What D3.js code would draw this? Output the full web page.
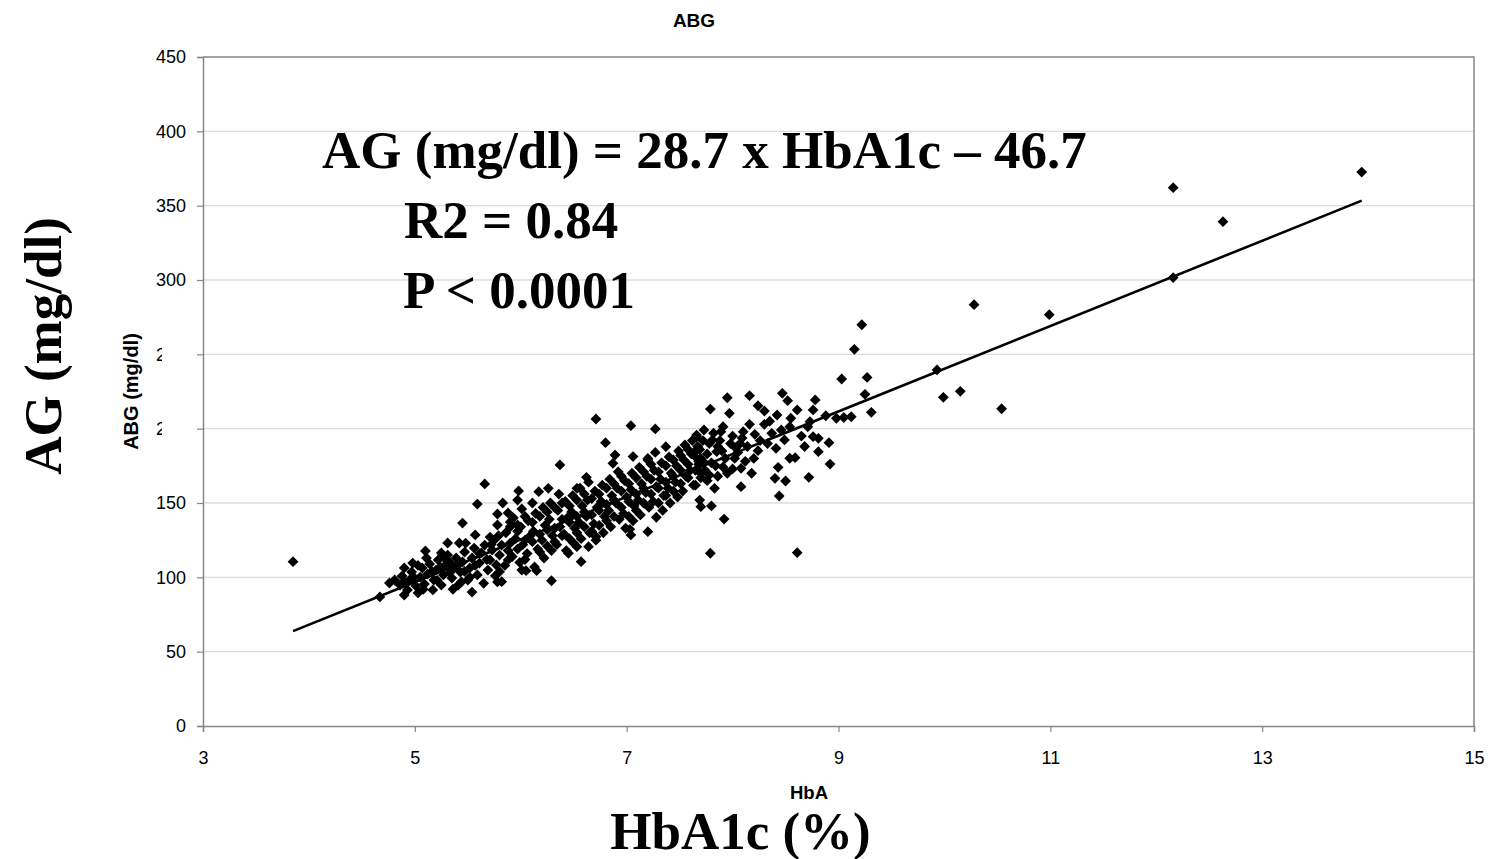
<!DOCTYPE html>
<html>
<head>
<meta charset="utf-8">
<script src="https://cdn.jsdelivr.net/npm/d3@7"></script>
<style>
  body { margin: 0; background: #fff; }
  .tick text { font-family: "Liberation Sans", Arial, sans-serif; font-size: 18px; fill: #000; }
</style>
</head>
<body>
<div id="chart"></div>
<script>
  'use strict';

  // HbA1c (%) / average blood glucose (mg/dl)
  // lower tail, HbA1c < 6
  var lowX = [3.85, 4.67, 4.76, 4.81, 4.90, 4.90, 4.98, 5.03, 5.10, 5.17,
    5.25, 5.31, 5.42, 5.45, 5.54, 5.57, 5.59, 5.66, 5.71, 5.78,
    5.78, 5.78, 5.83, 5.88, 5.90, 5.98, 5.97, 5.88, 6.01,
    4.86, 4.88, 4.93, 4.95, 4.97, 5.01, 5.05, 5.07, 5.09, 5.12,
    5.14, 5.18, 5.20, 5.22, 5.25, 5.27, 5.29, 5.31, 5.35, 5.37,
    5.39, 5.41, 5.43, 5.45, 5.47, 5.50, 5.52, 5.54, 5.56, 5.59,
    5.61, 5.63, 5.66, 5.69, 5.71, 5.73, 5.75, 5.77, 5.80, 5.82,
    4.90, 4.99, 5.03, 5.08, 5.11, 5.16, 5.21, 5.24, 5.28, 5.33,
    5.36, 5.40, 5.44, 5.47, 5.52, 5.57, 5.61, 5.65, 5.68, 5.72,
    5.76, 5.79, 5.33, 5.48];
  var lowY = [110.5, 86.8, 96.2, 98.2, 88.1, 106.3, 109.6, 89.5, 117.7, 91.5,
    116.4, 123.1, 123.1, 136.5, 90.1, 128.5, 149.3, 162.8, 127.1, 142.6,
    135.2, 96.9, 150.0, 143.3, 137.2, 158.1, 135.2, 111.7, 104.9,
    94.8, 100.9, 91.5, 98.2, 103.6, 94.2, 100.2, 106.3, 95.5, 102.2,
    109.0, 98.2, 104.9, 111.7, 94.8, 101.6, 108.3, 115.0, 99.5, 106.3,
    113.0, 94.8, 103.6, 110.3, 117.0, 98.2, 106.3, 113.0, 119.7, 101.6,
    109.6, 116.4, 121.7, 104.9, 111.7, 118.4, 125.1, 108.3, 115.0, 121.7,
    97, 100, 108, 92, 113, 104, 98, 107, 113, 103,
    92, 108, 97, 104, 100, 108, 116, 96, 112, 122,
    101, 128, 110, 123];

  // main band, HbA1c 5.8 - 7.7
  var midX = [5.86, 5.88, 5.85, 5.93, 5.95, 5.92, 6.00, 6.02, 5.99, 6.01,
    6.07, 6.09, 6.06, 6.14, 6.12, 6.16, 6.13, 6.21, 6.23, 6.20,
    6.22, 6.28, 6.27, 6.30, 6.29, 6.35, 6.37, 6.34, 6.36, 6.42,
    6.44, 6.41, 6.43, 6.49, 6.48, 6.51, 6.50, 6.56, 6.58, 6.55,
    6.57, 6.63, 6.62, 6.65, 6.64, 6.70, 6.72, 6.69, 6.71, 6.77,
    6.76, 6.79, 6.78, 6.84, 6.86, 6.83, 6.85, 6.91, 6.90, 6.93,
    6.92, 6.98, 7.00, 6.97, 6.99, 7.05, 7.04, 7.07, 7.06, 7.12,
    7.14, 7.11, 7.13, 7.19, 7.18, 7.21, 7.20, 7.26, 7.28, 7.25,
    7.27, 7.33, 7.32, 7.35, 7.34, 7.40, 7.42, 7.39, 7.41, 7.47,
    7.46, 7.49, 7.48, 7.54, 7.56, 7.53, 7.55, 7.61, 7.60, 7.63,
    7.62, 7.68, 7.70, 7.67,
    6.71, 7.04, 7.27, 7.66, 6.80, 7.37, 6.89, 6.37, 6.87, 7.06,
    7.20, 6.62, 6.17, 6.26, 6.53, 7.28, 7.20, 7.03, 7.04, 6.71,
    6.64, 6.53, 6.45, 6.57, 6.05, 6.15, 6.29, 5.82, 5.80];
  var midY = [130, 118, 108, 140, 126, 114, 134, 122, 110, 146,
    138, 128, 116, 143, 131, 119, 107, 147, 135, 125,
    113, 150, 139, 128, 118, 145, 134, 122, 156, 151,
    140, 129, 118, 155, 144, 133, 123, 160, 148, 137,
    126, 152, 141, 130, 164, 158, 147, 136, 125, 162,
    151, 141, 130, 166, 155, 145, 134, 160, 150, 139,
    171, 165, 154, 143, 133, 170, 159, 148, 138, 174,
    163, 152, 142, 168, 157, 147, 180, 172, 161, 151,
    184, 177, 166, 155, 145, 181, 170, 160, 150, 175,
    164, 185, 154, 179, 168, 158, 189, 183, 172, 162,
    192, 178, 167, 188,
    206.5, 202.0, 199.8, 195.7, 190.6, 187.9, 182.3, 175.6, 176.7, 181.2,
    178.9, 167.3, 157.6, 159.9, 159.9, 140.4, 130.7, 132.3, 128.5, 127.3,
    120.6, 120.6, 116.2, 110.5, 104.5, 104.5, 97.7, 97.1, 103.8];

  // points between the columns above, same band
  var fillX = [5.90, 5.90, 5.97, 5.97, 5.97, 6.04, 6.04, 6.04, 6.11, 6.11,
    6.11, 6.18, 6.18, 6.18, 6.25, 6.25, 6.25, 6.32, 6.32, 6.32,
    6.39, 6.39, 6.39, 6.46, 6.46, 6.46, 6.53, 6.53, 6.53, 6.60,
    6.60, 6.60, 6.67, 6.67, 6.67, 6.74, 6.74, 6.74, 6.81, 6.81,
    6.81, 6.88, 6.88, 6.88, 6.95, 6.95, 6.95, 7.02, 7.02, 7.02,
    7.09, 7.09, 7.09, 7.16, 7.16, 7.16, 7.23, 7.23, 7.23, 7.30,
    7.30, 7.30, 7.37, 7.37, 7.37, 7.44, 7.44, 7.44, 7.51, 7.51,
    7.51, 7.58, 7.58, 7.58, 7.65, 7.65, 7.65];
  var fillY = [123, 134, 119, 131, 152, 125, 141, 112, 124, 137,
    150, 129, 141, 117, 132, 144, 121, 133, 124, 147,
    139, 128, 150, 137, 148, 126, 141, 152, 130, 144,
    134, 156, 142, 153, 131, 145, 156, 135, 149, 160,
    138, 152, 163, 141, 147, 158, 168, 151, 163, 141,
    156, 167, 145, 160, 171, 150, 156, 166, 176, 160,
    171, 150, 164, 175, 155, 168, 179, 158, 172, 163,
    182, 176, 167, 186, 172, 181, 162];

  // upper band, HbA1c 7.6 - 9.3
  var highX = [9.03, 9.27, 9.25, 9.31, 7.95, 8.16, 8.47, 8.52, 8.78, 7.79,
    7.97, 8.24, 8.30, 8.42, 8.61, 8.76, 8.88, 8.98, 9.05, 9.12,
    8.73, 8.16, 8.30, 7.91, 7.73, 7.66, 7.89, 8.21, 8.37, 8.46,
    8.54, 8.71, 7.81, 8.09, 8.49, 8.76, 8.81, 8.91, 8.41, 8.24,
    8.03, 7.85, 8.81, 7.69, 7.70, 7.68, 8.54, 8.59, 8.92, 8.43,
    8.00, 8.08, 7.91, 8.18, 8.40, 8.50, 8.72, 8.08, 7.78, 7.83,
    8.44, 7.69, 7.70, 7.80, 7.92, 7.79, 8.61,
    7.65, 7.72, 7.78, 7.84, 7.90, 7.95, 8.02, 8.07, 8.12, 7.70,
    7.76, 7.88, 8.00, 7.82,
    7.74, 7.76, 7.80, 7.86, 7.93, 7.98, 8.05, 8.10, 7.72, 7.86,
    8.14, 8.20, 8.26, 8.33, 8.35, 8.55, 8.65, 8.68];
  var highY = [233.4, 234.5, 223.1, 211.0, 220.8, 222.2, 223.8, 218.8, 219.3, 213.2,
    210.3, 215.4, 211.9, 209.2, 212.6, 212.6, 208.7, 207.0, 207.5, 208.0,
    204.7, 202.9, 202.9, 201.3, 199.1, 194.6, 198.0, 196.2, 196.9, 199.1,
    201.3, 201.3, 192.4, 193.7, 192.4, 194.6, 193.5, 190.6, 186.8, 185.2,
    187.0, 184.5, 184.5, 186.0, 180.0, 176.0, 180.1, 180.5, 176.2, 174.0,
    172.9, 173.3, 174.2, 170.0, 166.6, 164.8, 167.3, 161.0, 168.8, 159.9,
    154.7, 152.0, 147.5, 148.0, 139.2, 116.2, 116.6,
    185, 178, 190, 175, 185, 170, 180, 190, 178, 170,
    165, 192, 195, 197,
    172, 183, 177, 188, 180, 190, 184, 198, 192, 168,
    188, 180, 192, 190, 205, 207, 195, 188];

  // sparse points above HbA1c 9
  var outX = [13.94, 12.16, 12.63, 12.16, 10.99, 10.28, 9.22, 9.15, 9.93, 9.99, 10.15, 10.54];
  var outY = [372.6, 362.1, 339.2, 301.6, 276.7, 283.4, 269.9, 253.4, 239.5, 221.1, 225.1, 213.4];

  var xTicks = [3, 5, 7, 9, 11, 13, 15];
  var yTicks = [0, 50, 100, 150, 200, 250, 300, 350, 400, 450];

  // trendline shown on the chart
  var fitSlope = 28.7;
  var fitIntercept = -46.7;
  var fitText = ["AG (mg/dl) = 28.7 x HbA1c \u2013 46.7", "R2 = 0.84", "P < 0.0001"];

  var points = [];
  [[lowX, lowY], [midX, midY], [fillX, fillY], [highX, highY], [outX, outY]].forEach(function (g) {
    for (var i = 0; i < Math.min(g[0].length, g[1].length); i++) {
      points.push({ x: g[0][i], y: g[1][i] });
    }
  });

  var w = 1490;
  var h = 859;
  var plotLeft = 203, plotRight = 1474, plotTop = 57, plotBottom = 726;
  var markerR = 5.4;
  var serif = '"Liberation Serif", "Times New Roman", serif';
  var sans = '"Liberation Sans", Arial, sans-serif';
  var axisGrey = "#868686";

  var svg = d3.select("#chart").append("svg")
    .attr("width", w)
    .attr("height", h);

  var x = d3.scaleLinear().domain([3, 15]).range([plotLeft, plotRight]);
  var y = d3.scaleLinear().domain([0, 450]).range([plotBottom, plotTop]);

  // gridlines
  svg.append("g").selectAll("line.grid")
    .data(yTicks.filter(function (d) { return d > 0 && d < 450; }))
    .enter().append("line")
    .attr("class", "grid")
    .attr("x1", plotLeft).attr("x2", plotRight)
    .attr("y1", function (d) { return y(d); })
    .attr("y2", function (d) { return y(d); })
    .attr("stroke", "#dcdcdc")
    .attr("stroke-width", 1.3);

  // plot border top / right
  svg.append("path")
    .attr("d", "M" + plotLeft + "," + plotTop + "H" + plotRight + "V" + plotBottom)
    .attr("fill", "none")
    .attr("stroke", axisGrey)
    .attr("stroke-width", 1.5);

  var yAxis = svg.append("g")
    .attr("transform", "translate(" + plotLeft + ",0)")
    .call(d3.axisLeft(y).tickValues(yTicks).tickSize(6).tickPadding(11));
  var xAxis = svg.append("g")
    .attr("transform", "translate(0," + plotBottom + ")")
    .call(d3.axisBottom(x).tickValues(xTicks).tickSize(6).tickPadding(19));
  [xAxis, yAxis].forEach(function (a) {
    a.select(".domain").attr("stroke", axisGrey).attr("stroke-width", 1.5);
    a.selectAll(".tick line").attr("stroke", axisGrey).attr("stroke-width", 1.2);
  });

  // axis title box hides most of the 250 / 200 labels
  svg.append("rect")
    .attr("x", 162).attr("y", 335)
    .attr("width", 34).attr("height", 112)
    .attr("fill", "#fff");

  // trendline
  var xr = d3.extent(points, function (d) { return d.x; });
  svg.append("line")
    .attr("x1", x(xr[0])).attr("y1", y(fitSlope * xr[0] + fitIntercept))
    .attr("x2", x(xr[1])).attr("y2", y(fitSlope * xr[1] + fitIntercept))
    .attr("stroke", "#000")
    .attr("stroke-width", 2.6);

  // markers
  svg.append("g").selectAll("path.pt")
    .data(points)
    .enter().append("path")
    .attr("class", "pt")
    .attr("d", "M0," + (-markerR) + "L" + markerR + ",0L0," + markerR + "L" + (-markerR) + ",0Z")
    .attr("transform", function (d) { return "translate(" + x(d.x) + "," + y(d.y) + ")"; })
    .attr("fill", "#000");

  // small chart titles
  svg.append("text")
    .attr("x", 694).attr("y", 27)
    .attr("text-anchor", "middle")
    .style("font-family", sans).style("font-size", "19px").style("font-weight", "bold")
    .text("ABG");

  svg.append("text")
    .attr("transform", "translate(137.5," + ((plotTop + plotBottom) / 2) + ") rotate(-90)")
    .attr("text-anchor", "middle")
    .style("font-family", sans).style("font-size", "20px").style("font-weight", "bold")
    .text("ABG (mg/dl)");

  // x title, cut off by the big label box in the original
  svg.append("text")
    .attr("x", 790).attr("y", 799)
    .style("font-family", sans).style("font-size", "18.5px").style("font-weight", "bold")
    .text("HbA");

  // big overlay labels
  svg.append("text")
    .attr("x", 740.5).attr("y", 849)
    .attr("text-anchor", "middle")
    .style("font-family", serif).style("font-size", "53px").style("font-weight", "bold")
    .text("HbA1c (%)");

  svg.append("text")
    .attr("transform", "translate(61,346) rotate(-90)")
    .attr("text-anchor", "middle")
    .style("font-family", serif).style("font-size", "53px").style("font-weight", "bold")
    .text("AG (mg/dl)");

  var eqPos = [[322, 168], [404, 238], [403, 308]];
  svg.append("g").selectAll("text.eq")
    .data(fitText)
    .enter().append("text")
    .attr("class", "eq")
    .attr("x", function (d, i) { return eqPos[i][0]; })
    .attr("y", function (d, i) { return eqPos[i][1]; })
    .style("font-family", serif).style("font-size", "53px").style("font-weight", "bold")
    .text(function (d) { return d; });
</script>
</body>
</html>
